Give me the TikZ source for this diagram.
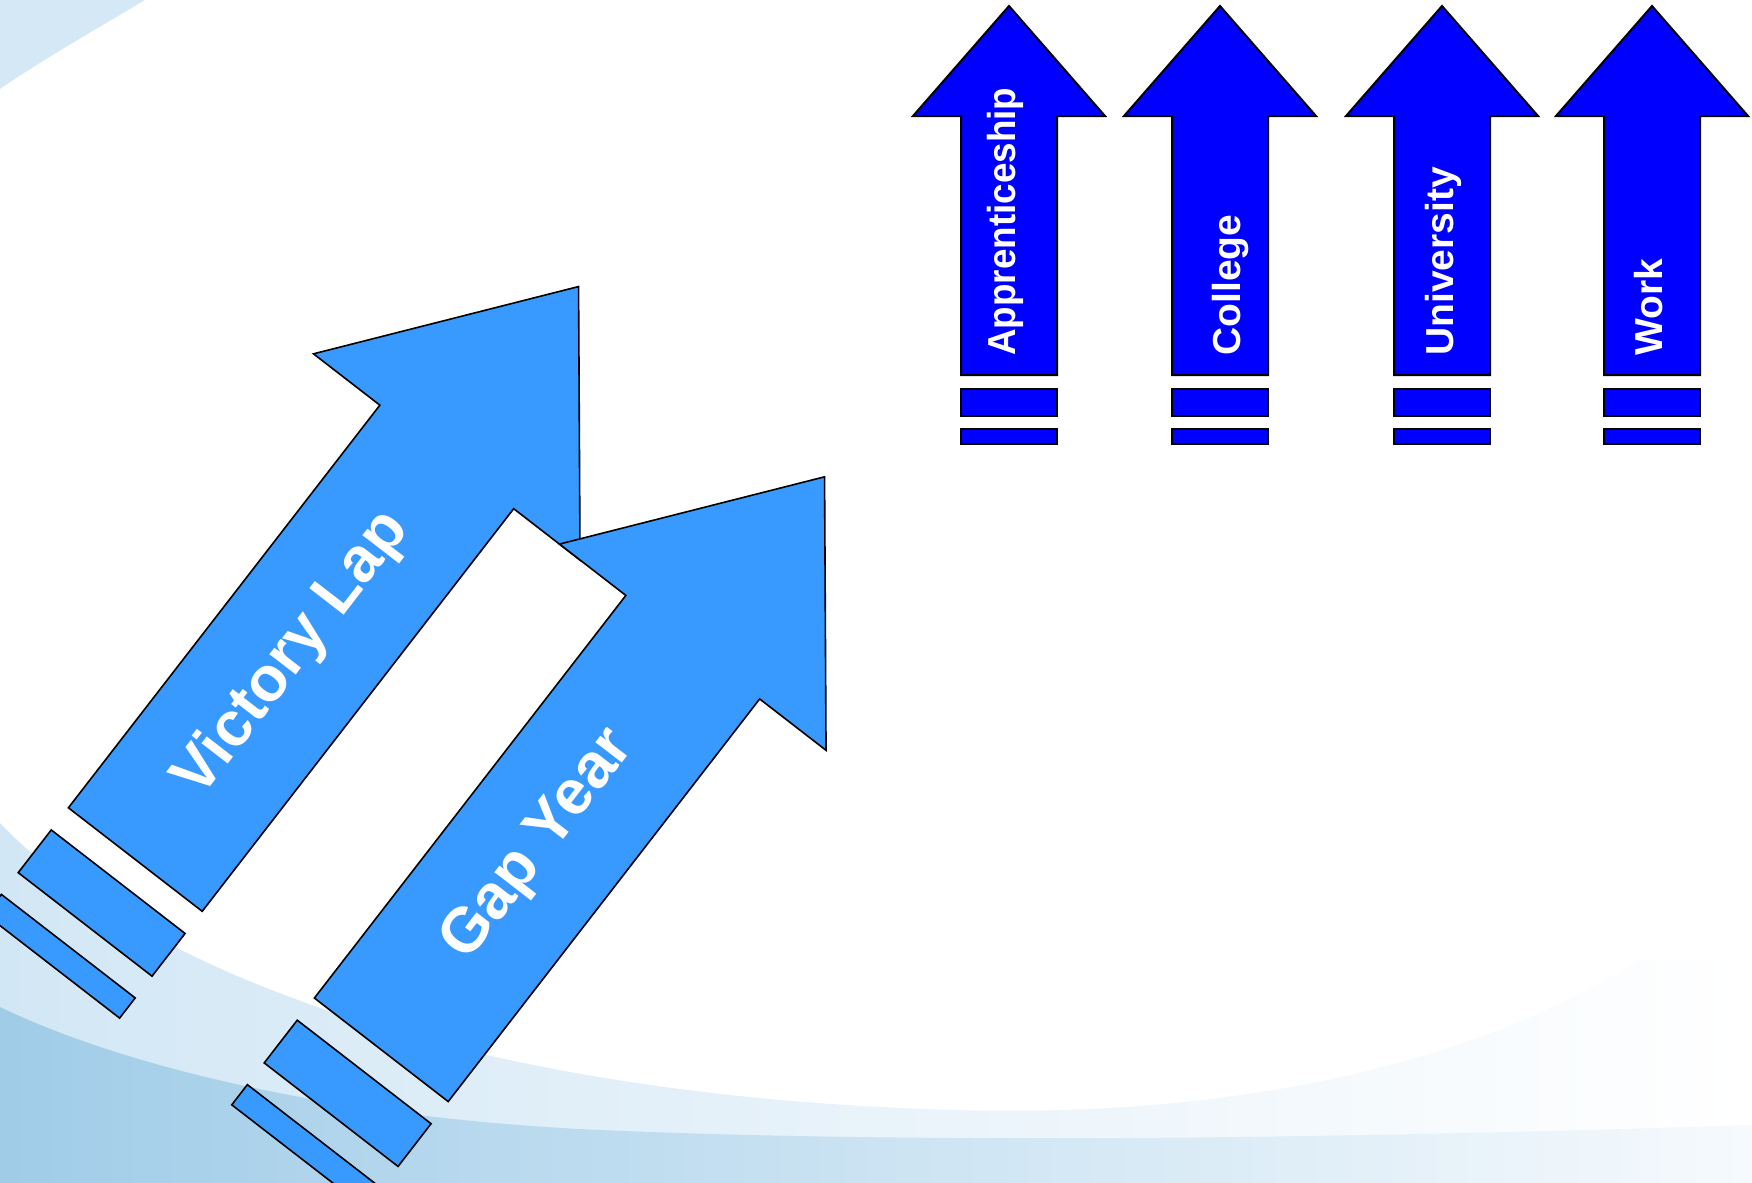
\documentclass[tikz,border=0pt]{standalone}
\usepackage{fontspec}
\usepackage{graphicx}
\setmainfont{Liberation Sans}
\definecolor{diagblue}{HTML}{3899FF}
\definecolor{vblue}{HTML}{0000FF}
\definecolor{bgA}{HTML}{D2E7F5}
\definecolor{bgB}{HTML}{A0CCE8}
\definecolor{bgBmid}{HTML}{D4E7F5}
\definecolor{bgBright}{HTML}{F6FAFD}
\definecolor{bgTL}{HTML}{D5E8F6}
\tikzset{
  diagarrow/.style={fill=diagblue, draw=black, line width=0.8pt, line join=miter},
  vertarrow/.style={fill=vblue, draw=black, line width=1pt, line join=miter},
  vlabel/.style={text=white, font=\bfseries\fontsize{19.5}{20}\selectfont, rotate=90, anchor=base west, inner sep=0pt},
  dlabel/.style={text=white, font=\bfseries\fontsize{31.5}{33}\selectfont, rotate=52.27, anchor=base, inner sep=0pt},
}
\begin{document}
\begin{tikzpicture}[x=0.5pt, y=-0.5pt]
\useasboundingbox (0,0) rectangle (1752,1183);
\clip (0,0) rectangle (1752,1183);
\fill[white] (0,0) rectangle (1752,1183);
% background swooshes
\fill[bgTL] (0,0) -- (145,0) .. controls (100,27) and (45,58) .. (0,89) -- cycle;
\shade[left color=bgA, right color=white]
  (0,823) .. controls (120,950) and (420,1095) .. (955,1110)
  .. controls (1249,1118) and (1480,1060) .. (1640,960)
  -- (1752,960) -- (1752,1183) -- (0,1183) -- cycle;
\shade[left color=bgB, middle color=bgBmid, right color=bgBright]
  (0,1007) .. controls (120,1065) and (330,1118) .. (600,1130)
  .. controls (900,1143) and (1300,1140) .. (1752,1125)
  -- (1752,1183) -- (0,1183) -- cycle;
% Victory Lap arrow
\begin{scope}[shift={(67.65pt,-429.775pt)}, x={(0.30595pt,0.3955pt)}, y={(0.3955pt,-0.30595pt)}]
  \draw[diagarrow] (0,-84.6) -- (509,-84.6) -- (509,-168.5) -- (724.4,0) -- (509,168.5) -- (509,84.6) -- (0,84.6) -- cycle;
  \draw[diagarrow] (-28,-84.6) -- (-28,84.6) -- (-82,84.6) -- (-82,-84.6) -- cycle;
  \draw[diagarrow] (-109.5,-84.6) -- (-109.5,84.6) -- (-135,84.6) -- (-135,-84.6) -- cycle;
  \node[dlabel] (victory) at (258,15) {Victory Lap};
\end{scope}
% Gap Year arrow
\begin{scope}[shift={(190.65pt,-524.9pt)}, x={(0.30595pt,0.3955pt)}, y={(0.3955pt,-0.30595pt)}]
  \draw[diagarrow] (0,-84.6) -- (509,-84.6) -- (509,-168.5) -- (724.4,0) -- (509,168.5) -- (509,84.6) -- (0,84.6) -- cycle;
  \draw[diagarrow] (-28,-84.6) -- (-28,84.6) -- (-82,84.6) -- (-82,-84.6) -- cycle;
  \draw[diagarrow] (-109.5,-84.6) -- (-109.5,84.6) -- (-135,84.6) -- (-135,-84.6) -- cycle;
  \node[dlabel] (gapyear) at (258,15) {Gap Year};
\end{scope}
% vertical arrows
\foreach \c in {1009,1220,1442,1652}{
  \draw[vertarrow] (\c-48,375) -- (\c-48,116) -- (\c-96,116) -- (\c,6) -- (\c+96,116) -- (\c+48,116) -- (\c+48,375) -- cycle;
  \draw[vertarrow] (\c-48,389) rectangle (\c+48,416);
  \draw[vertarrow] (\c-48,429) rectangle (\c+48,444);
}
\node[vlabel] (appr) at (1015,356) {\scalebox{0.944}[1]{Apprenticeship}};
\node[vlabel] (coll) at (1240,356) {College};
\node[vlabel] (univ) at (1453,356) {University};
\node[vlabel] (work) at (1662,356) {Work};
\end{tikzpicture}
\end{document}
